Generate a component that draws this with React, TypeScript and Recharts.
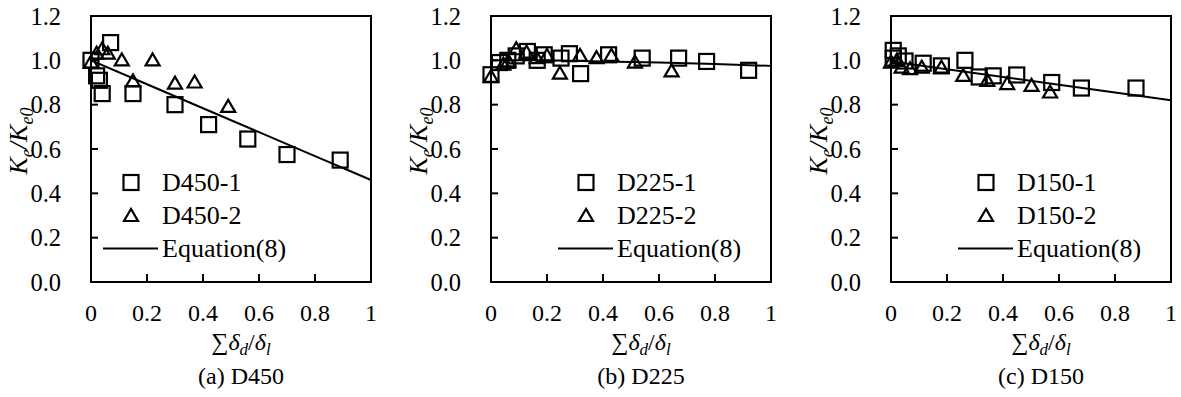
import React from 'react';
import { ScatterChart, Scatter, XAxis, YAxis, ReferenceArea, Legend } from 'recharts';

const FONT = "'Liberation Serif', 'Times New Roman', serif";

const xTicks = [0, 0.2, 0.4, 0.6, 0.8, 1];
const yTicks = [0, 0.2, 0.4, 0.6, 0.8, 1.0, 1.2];

// (a) D450
const d450_1X = [0, 0.02, 0.03, 0.04, 0.07, 0.15, 0.3, 0.42, 0.56, 0.7, 0.89];
const d450_1Y = [1.0, 0.93, 0.91, 0.85, 1.08, 0.85, 0.8, 0.71, 0.645, 0.575, 0.55];
const d450_2X = [0, 0.02, 0.04, 0.06, 0.11, 0.15, 0.22, 0.3, 0.37, 0.49];
const d450_2Y = [0.99, 1.03, 1.05, 1.03, 1.0, 0.905, 1.0, 0.895, 0.9, 0.79];
const eq450Y = [1.0, 0.892, 0.784, 0.676, 0.568, 0.46];

// (b) D225
const d225_1X = [0, 0.03, 0.06, 0.09, 0.13, 0.165, 0.19, 0.25, 0.28, 0.32, 0.42, 0.54, 0.67, 0.77, 0.92];
const d225_1Y = [0.935, 0.99, 1.0, 1.02, 1.04, 1.0, 1.025, 1.01, 1.03, 0.94, 1.025, 1.01, 1.01, 0.995, 0.955];
const d225_2X = [0, 0.044, 0.062, 0.09, 0.127, 0.163, 0.2, 0.246, 0.318, 0.377, 0.43, 0.514, 0.645];
const d225_2Y = [0.925, 0.98, 0.995, 1.05, 1.035, 1.01, 1.02, 0.94, 1.02, 1.01, 1.02, 0.99, 0.95];
const eq225Y = [1.0, 1.0, 0.995, 0.99, 0.983, 0.975];

// (c) D150
const d150_1X = [0.008, 0.008, 0.026, 0.05, 0.115, 0.18, 0.264, 0.315, 0.365, 0.449, 0.574, 0.68, 0.875];
const d150_1Y = [1.045, 1.01, 1.02, 0.997, 0.987, 0.975, 1.0, 0.925, 0.93, 0.934, 0.9, 0.875, 0.875];
const d150_2X = [0, 0.02, 0.038, 0.068, 0.11, 0.18, 0.258, 0.344, 0.415, 0.502, 0.568];
const d150_2Y = [0.99, 0.997, 0.967, 0.96, 0.967, 0.967, 0.93, 0.907, 0.893, 0.885, 0.855];
const eq150Y = [0.995, 0.96, 0.925, 0.89, 0.855, 0.82];

const zip = (xs: number[], ys: number[]) => xs.map((x, i) => ({ x, y: ys[i] }));

const Y_MARGIN = 30;
const X_MARGIN = 22;

const YTick = (props: any) => {
  const { x, y, payload } = props;
  return (
    <g>
      <text x={x} y={y} dy="0.355em" textAnchor="end" style={{ fontFamily: FONT, fontSize: 24.5 }} fill="#000">
        {Number(payload.value).toFixed(1)}
      </text>
      <line x1={x + Y_MARGIN} x2={x + Y_MARGIN + 7} y1={y} y2={y} stroke="#000" strokeWidth={2} />
    </g>
  );
};

const XTick = (props: any) => {
  const { x, y, payload } = props;
  return (
    <g>
      <text x={x} y={y} dy="0.71em" textAnchor="middle" style={{ fontFamily: FONT, fontSize: 24 }} fill="#000">
        {String(payload.value)}
      </text>
      <line x1={x} x2={x} y1={y - X_MARGIN} y2={y - X_MARGIN - 8} stroke="#000" strokeWidth={2} />
    </g>
  );
};

const Square = (p: any) => (
  <rect x={p.cx - 7.5} y={p.cy - 7.5} width={15} height={15} fill="none" stroke="#000" strokeWidth={2.2} />
);
const Triangle = (p: any) => (
  <polygon points={`${p.cx},${p.cy - 7} ${p.cx - 7},${p.cy + 5} ${p.cx + 7},${p.cy + 5}`} fill="none" stroke="#000" strokeWidth={2.2} />
);
const NoDot = () => <g />;

const renderLegend = (props: any) => {
  const { payload } = props;
  return (
    <div style={{ fontFamily: FONT, fontSize: 26, color: '#000' }}>
      {(payload || []).map((e: any) => (
        <div key={e.value} style={{ display: 'flex', alignItems: 'center', height: 33 }}>
          <svg width={55} height={33} style={{ marginRight: 4 }}>
            {e.type === 'square' && <rect x={20.5} y={9} width={15} height={15} fill="none" stroke="#000" strokeWidth={2.2} />}
            {e.type === 'triangle' && <polygon points="28,10 21,22 35,22" fill="none" stroke="#000" strokeWidth={2.2} />}
            {e.type === 'line' && <line x1={0} x2={55} y1={16.5} y2={16.5} stroke="#000" strokeWidth={2} />}
          </svg>
          <span style={{ lineHeight: '33px', fontFamily: FONT }}>{e.value}</span>
        </div>
      ))}
    </div>
  );
};

const YLabel = () => {
  const cx = 27;
  const cy = 141;
  return (
    <text x={cx} y={cy} transform={`rotate(-90, ${cx}, ${cy})`} textAnchor="middle" style={{ fontFamily: FONT, fontSize: 26, fontStyle: 'italic' }} fill="#000">
      K<tspan dy={6} fontSize={18}>e</tspan>
      <tspan dy={-6}>/K</tspan>
      <tspan dy={6} fontSize={18}>e0</tspan>
    </text>
  );
};

const makeXLabel = (caption: string) => (props: any) => {
  const vb = props.viewBox || { x: 0, y: 0, width: 0 };
  const cx = vb.x + vb.width / 2 + 10;
  return (
    <g fill="#000">
      <text x={cx} y={vb.y + 68} textAnchor="middle" style={{ fontFamily: FONT, fontSize: 24 }}>
        ∑<tspan fontStyle="italic">δ</tspan>
        <tspan fontStyle="italic" fontSize={17} dy={5}>d</tspan>
        <tspan dy={-5}>/</tspan>
        <tspan fontStyle="italic">δ</tspan>
        <tspan fontStyle="italic" fontSize={17} dy={5}>l</tspan>
      </text>
      <text x={cx} y={vb.y + 102} textAnchor="middle" style={{ fontFamily: FONT, fontSize: 24 }}>{caption}</text>
    </g>
  );
};

interface PanelProps {
  left: number;
  caption: string;
  legendLeft: number;
  s1: { x: number; y: number }[];
  s2: { x: number; y: number }[];
  eq: { x: number; y: number }[];
  n1: string;
  n2: string;
}

const Panel: React.FC<PanelProps> = ({ left, caption, legendLeft, s1, s2, eq, n1, n2 }) => (
  <div style={{ position: 'absolute', left, top: 0 }}>
    <ScatterChart width={381} height={397} margin={{ top: 16, right: 10, bottom: 85, left: 0 }}>
      <XAxis
        type="number"
        dataKey="x"
        domain={[0, 1]}
        ticks={xTicks}
        height={30}
        tickSize={0}
        tickMargin={X_MARGIN}
        tickLine={false}
        axisLine={{ stroke: '#000', strokeWidth: 2 }}
        tick={<XTick />}
        interval={0}
        label={{ content: makeXLabel(caption) }}
      />
      <YAxis
        type="number"
        dataKey="y"
        domain={[0, 1.2]}
        ticks={yTicks}
        width={91}
        tickSize={0}
        tickMargin={Y_MARGIN}
        tickLine={false}
        axisLine={{ stroke: '#000', strokeWidth: 2 }}
        tick={<YTick />}
        interval={0}
        label={{ content: YLabel }}
      />
      <ReferenceArea x1={0} x2={1} y1={0} y2={1.2} fill="none" stroke="#000" strokeWidth={2} />
      <Scatter name={n1} data={s1} shape={Square} legendType="square" fill="#000" isAnimationActive={false} />
      <Scatter name={n2} data={s2} shape={Triangle} legendType="triangle" fill="#000" isAnimationActive={false} />
      <Scatter
        name="Equation(8)"
        data={eq}
        shape={NoDot}
        line={{ stroke: '#000', strokeWidth: 2 }}
        legendType="line"
        fill="#000"
        isAnimationActive={false}
      />
      <Legend
        content={renderLegend}
        layout="vertical"
        align="center"
        verticalAlign="middle"
        wrapperStyle={{ position: 'absolute', left: legendLeft, top: 166, width: 240, bottom: 'auto' }}
      />
    </ScatterChart>
  </div>
);

export default function App() {
  return (
    <div style={{ position: 'absolute', left: 0, top: 0, width: 1181, height: 397, overflow: 'hidden', background: '#fff' }}>
      <Panel left={0} caption="(a) D450" legendLeft={103} n1="D450-1" n2="D450-2"
        s1={zip(d450_1X, d450_1Y)} s2={zip(d450_2X, d450_2Y)} eq={zip(xTicks, eq450Y)} />
      <Panel left={400} caption="(b) D225" legendLeft={158} n1="D225-1" n2="D225-2"
        s1={zip(d225_1X, d225_1Y)} s2={zip(d225_2X, d225_2Y)} eq={zip(xTicks, eq225Y)} />
      <Panel left={800} caption="(c) D150" legendLeft={158} n1="D150-1" n2="D150-2"
        s1={zip(d150_1X, d150_1Y)} s2={zip(d150_2X, d150_2Y)} eq={zip(xTicks, eq150Y)} />
    </div>
  );
}
